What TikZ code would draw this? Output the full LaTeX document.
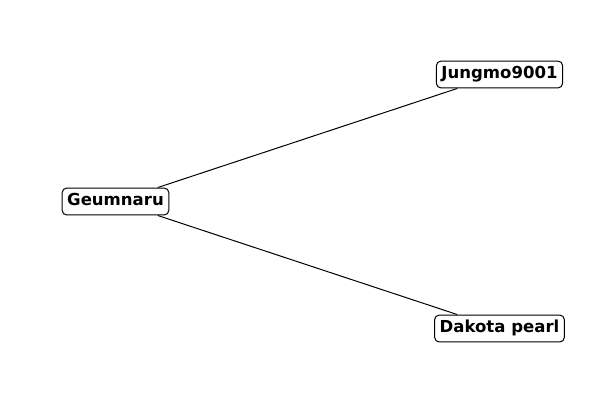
\documentclass[tikz,border=0pt]{standalone}
\usepackage{fontspec}
\setmainfont{DejaVu Sans}
\begin{document}
\begin{tikzpicture}[x=0.75pt,y=-0.75pt,
  lbl/.style={draw, rounded corners=3.5pt, fill=white, font=\bfseries\fontsize{12.4}{14}\selectfont, text height=9.2pt, text depth=2.6pt, inner xsep=3.8pt, inner ysep=4.2pt, line width=0.75pt}]
\useasboundingbox (0,0) rectangle (600,400);
\node[lbl] (g) at (115.5,201.5) {Geumnaru};
\node[lbl] (j) at (499.5,74.5) {Jungmo9001};
\node[lbl] (d) at (499.5,328.5) {Dakota pearl};
\draw[line width=0.75pt] (g) -- (j);
\draw[line width=0.75pt] (g) -- (d);
\end{tikzpicture}
\end{document}
